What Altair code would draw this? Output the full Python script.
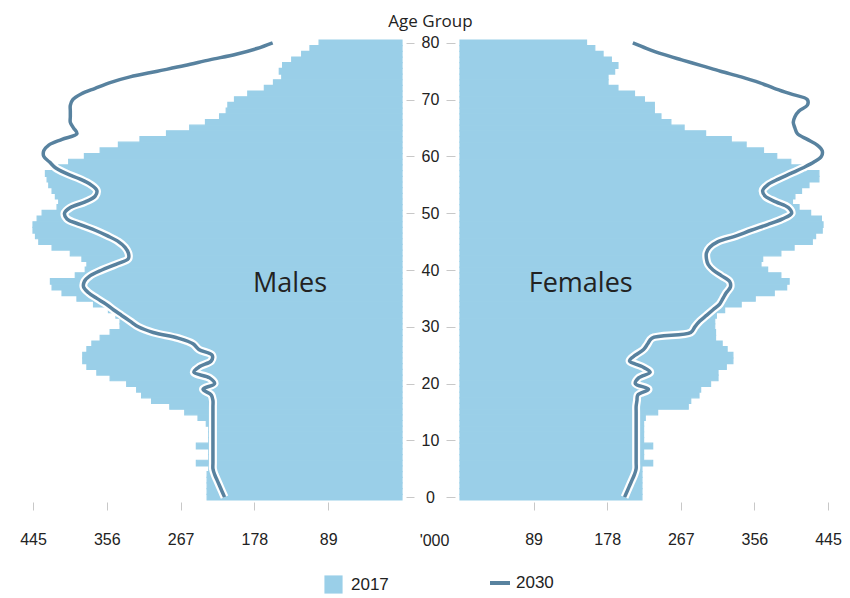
import altair as alt
import pandas as pd

ages = list(range(0, 81))

male_2017 = [235, 235, 235, 235, 235, 233, 248, 233, 233, 248,
             233, 233, 233, 236, 246, 262, 280, 302, 314, 320,
             332, 352, 368, 380, 385, 385, 380, 374, 364, 352,
             340, 340, 345, 354, 372, 392, 410, 422, 424, 394,
             382, 380, 386, 400, 422, 438, 442, 445, 445, 440,
             434, 416, 414, 418, 422, 426, 428, 430, 414, 402,
             383, 364, 342, 316, 284, 256, 237, 220, 212, 210,
             202, 186, 166, 155, 145, 148, 144, 133, 121, 111, 100]

female_2017 = [220, 220, 220, 220, 220, 220, 233, 222, 222, 233,
               222, 222, 222, 222, 224, 239, 276, 279, 289, 291,
               303, 312, 312, 322, 330, 330, 323, 317, 309, 309,
               308, 308, 310, 320, 340, 357, 380, 395, 398, 388,
               372, 364, 366, 388, 404, 426, 430, 438, 439, 437,
               424, 410, 402, 405, 413, 422, 434, 434, 415, 400,
               383, 367, 346, 328, 297, 271, 255, 243, 235, 235,
               223, 211, 191, 179, 179, 187, 191, 183, 173, 163, 153]

male_2030 = [214, 217, 220, 223, 226, 228, 228, 228, 228, 228,
             228, 228, 228, 228, 228, 228, 228, 228, 230, 240,
             226, 232, 251, 244, 230, 229, 245, 252, 270, 300,
             318, 328, 338, 348, 357, 368, 378, 384, 383, 376,
             362, 345, 330, 330, 334, 342, 355, 370, 388, 404,
             407, 400, 382, 370, 368, 375, 388, 405, 418, 425,
             432, 432, 426, 410, 392, 396, 400, 400, 400, 400,
             397, 387, 370, 352, 328, 295, 262, 232, 200, 175, 156]

female_2030 = [199, 202, 205, 208, 211, 213, 213, 213, 213, 213,
               213, 213, 213, 213, 213, 213, 213, 214, 215, 228,
               212, 216, 230, 220, 205, 212, 222, 227, 232, 279,
               284, 290, 298, 306, 314, 318, 322, 327, 326, 316,
               306, 300, 298, 298, 302, 312, 334, 352, 372, 390,
               401, 397, 382, 369, 366, 372, 385, 400, 415, 428,
               437, 438, 432, 420, 408, 405, 403, 405, 410, 420,
               420, 400, 380, 362, 340, 315, 292, 268, 245, 226, 209]

x_ticks = [89, 178, 267, 356, 445]
age_ticks = [0, 10, 20, 30, 40, 50, 60, 70, 80]
side_labels = ["Males", "Females"]
label_value = [135, 146]
label_age = [37.6, 37.6]

BAR = "#9ACFE8"
LINE = "#58829F"
TXT = "#222222"
TICKFONT = "Liberation Sans, Arial, sans-serif"
SANS = "Open Sans, Lato, sans-serif"

df = pd.DataFrame({
    "age": ages,
    "m2017": male_2017,
    "f2017": female_2017,
    "m2030": male_2030,
    "f2030": female_2030,
})
df["lo"] = df["age"] - 0.5
df["hi"] = df["age"] + 0.5
df["zero"] = 0
df["s17"] = "2017"
df["s30"] = "2030"

W_L, W_R, GAP, H = 369, 368, 58, 460

yscale = alt.Scale(domain=[-0.5, 80.5], nice=False, zero=False)


def side(col17, col30, reverse, label_idx, left):
    xscale = alt.Scale(domain=[0, 445], reverse=reverse, nice=False)
    xaxis = alt.Axis(values=x_ticks, grid=False, domain=False, tickColor="#c8c8c8",
                     tickSize=8, offset=2, labelPadding=21, labelFont=TICKFONT,
                     labelFontSize=16, labelColor=TXT, labelFlush=False,
                     title="'000" if left else None,
                     titleX=W_L + GAP / 2 + 3, titleY=38, titleAlign="center",
                     titleBaseline="middle", titleFont=TICKFONT,
                     titleFontSize=16, titleFontWeight="normal", titleColor=TXT)
    if left:
        yaxis = alt.Axis(orient="right", values=age_ticks, grid=False, domain=False,
                         tickColor="#c8c8c8", tickSize=8, offset=4,
                         labelAlign="center", labelPadding=16, labelFont=TICKFONT,
                         labelFontSize=16, labelColor=TXT, title=None)
    else:
        yaxis = alt.Axis(orient="left", values=age_ticks, grid=False, domain=False,
                         tickColor="#c8c8c8", tickSize=9, offset=5,
                         labels=False, title=None)

    base = alt.Chart(df)
    bars = base.mark_rect(stroke=BAR, strokeWidth=1.2).encode(
        x=alt.X(f"{col17}:Q", scale=xscale, axis=xaxis),
        x2="zero:Q",
        y=alt.Y("lo:Q", scale=yscale, axis=yaxis),
        y2="hi:Q",
        color=alt.Color("s17:N",
                        scale=alt.Scale(domain=["2017"], range=[BAR]),
                        legend=alt.Legend(title=None, orient="none", legendX=291, legendY=535,
                                          symbolType="square", symbolSize=330,
                                          symbolStrokeWidth=0,
                                          labelFont=TICKFONT, labelFontSize=17,
                                          labelColor=TXT, labelOffset=8)),
    )
    halo = base.mark_line(color="white", strokeWidth=8, interpolate="catmull-rom",
                          clip=False).encode(
        x=alt.X(f"{col30}:Q"),
        y=alt.Y("age:Q"),
        order="age:Q",
    )
    line = base.mark_line(strokeWidth=3.5, interpolate="catmull-rom", clip=False).encode(
        x=alt.X(f"{col30}:Q"),
        y=alt.Y("age:Q"),
        order="age:Q",
        stroke=alt.Stroke("s30:N",
                          scale=alt.Scale(domain=["2030"], range=[LINE]),
                          legend=alt.Legend(title=None, orient="none", legendX=455, legendY=531,
                                            symbolType="stroke", symbolSize=400,
                                            symbolStrokeWidth=4,
                                            labelFont=TICKFONT, labelFontSize=17,
                                            labelColor=TXT, labelOffset=4)),
    )
    lab = alt.Chart(pd.DataFrame({
        "t": [side_labels[label_idx]],
        "v": [label_value[label_idx]],
        "a": [label_age[label_idx]],
    })).mark_text(font=SANS, fontSize=27, color=TXT, align="center",
                  baseline="middle").encode(
        x=alt.X("v:Q"), y=alt.Y("a:Q"), text="t:N")
    return alt.layer(bars, halo, line, lab).properties(width=(W_L if left else W_R), height=H)


left = side("m2017", "m2030", True, 0, True)
right = side("f2017", "f2030", False, 1, False)

chart = alt.hconcat(left, right, spacing=GAP, bounds="flush").resolve_scale(
    x="independent", y="shared", color="shared", stroke="shared"
).resolve_axis(y="independent", x="independent").properties(
    title=alt.TitleParams("Age Group", font=SANS, fontSize=17, fontWeight="normal",
                          color=TXT, anchor="middle", offset=-4),
    padding={"left": 11, "top": 4, "right": 0, "bottom": 4},
).configure_view(stroke=None)

chart.save("out.html", embed_options={"renderer": "svg", "actions": False})
